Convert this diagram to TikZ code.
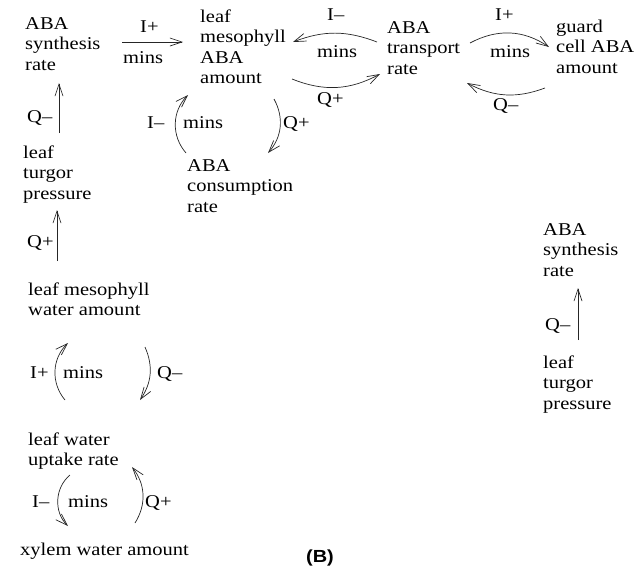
\documentclass[tikz,border=0pt]{standalone}
\usepackage{fontspec}
\setmainfont{Liberation Serif}[FakeStretch=1.14]
\newfontfamily\capsans{Liberation Sans}[FakeStretch=1.14]
\usetikzlibrary{arrows.meta}
\begin{document}
\begin{tikzpicture}[x=1pt,y=-1pt,
  lbl/.style={anchor=base west, inner sep=0pt, align=left, font=\fontsize{18}{20.5}\selectfont},
  tag/.style={anchor=base west, inner sep=0pt, font=\fontsize{18}{20.5}\selectfont},
  arr/.style={-{Straight Barb[length=12pt,width=8pt]}, line width=0.7pt, black!85}]
\useasboundingbox (0,0) rectangle (637,571);
% quantity nodes (placed by the baseline of their last line)
\node[lbl] (synth) at (25,29+41) {ABA\\synthesis\\rate};
\node[lbl] (meso) at (200,22+61.5) {leaf\\mesophyll\\ABA\\amount};
\node[lbl] (transp) at (387,33+41) {ABA\\transport\\rate};
\node[lbl] (guard) at (556,32+41) {guard\\cell ABA\\amount};
\node[lbl] (cons) at (187,171+41) {ABA\\consumption\\rate};
\node[lbl] (turgor) at (23,158+41) {leaf\\turgor\\pressure};
\node[lbl] (mwater) at (28,295+20.5) {leaf mesophyll\\water amount};
\node[lbl] (uptake) at (28,445+20.5) {leaf water\\uptake rate};
\node[lbl] (xylem) at (20,555) {xylem water amount};
\node[lbl] (synthB) at (543,235+41) {ABA\\synthesis\\rate};
\node[lbl] (turgorB) at (543,368+41) {leaf\\turgor\\pressure};
\node[anchor=base, inner sep=0pt, font=\capsans\bfseries\fontsize{17.5}{20}\selectfont] (panel) at (320,562) {(B)};
% connectors
\draw[arr] ([shift={(97,13-41)}]synth.base west) -- ([shift={(-17,20-61.5)}]meso.base west);
\draw[arr] ([shift={(36,-25-41)}]turgor.base west) -- ([shift={(34,54-41)}]synth.base west);
\draw[arr] ([shift={(29,-34-20.5)}]mwater.base west) -- ([shift={(34,52-41)}]turgor.base west);
\draw[arr] ([shift={(-1,-18-41)}]cons.base west) to[bend left=43] ([shift={(-12,73-61.5)}]meso.base west);
\draw[arr] ([shift={(74,77-61.5)}]meso.base west) to[bend left=35] ([shift={(81,-18-41)}]cons.base west);
\draw[arr] ([shift={(-10,9-41)}]transp.base west) to[bend right=21] ([shift={(93,20-61.5)}]meso.base west);
\draw[arr] ([shift={(92,57-61.5)}]meso.base west) to[bend right=25] ([shift={(-7,41-41)}]transp.base west);
\draw[arr] ([shift={(83,10-41)}]transp.base west) to[bend left=31] ([shift={(-7,15-41)}]guard.base west);
\draw[arr] ([shift={(-11,56-41)}]guard.base west) to[bend left=24] ([shift={(80,50-41)}]transp.base west);
\draw[arr] ([shift={(37,-45-20.5)}]uptake.base west) to[bend left=43] ([shift={(40,48-20.5)}]mwater.base west);
\draw[arr] ([shift={(117,52-20.5)}]mwater.base west) to[bend left=29] ([shift={(112,-45-20.5)}]uptake.base west);
\draw[arr] ([shift={(42,30-20.5)}]uptake.base west) to[bend right=48] ([shift={(48,-29)}]xylem.base west);
\draw[arr] ([shift={(115,-32)}]xylem.base west) to[bend right=35] ([shift={(104,22-20.5)}]uptake.base west);
\draw[arr] ([shift={(35,-28-41)}]turgorB.base west) -- ([shift={(35,53-41)}]synthB.base west);
% connector labels
\node[tag] (la1) at (140,32) {I+};
\node[tag] (la2) at (123,63) {mins};
\node[tag] (lb) at (27,122) {Q–};
\node[tag] (lc) at (27,247) {Q+};
\node[tag] (ld1) at (147,128) {I–};
\node[tag] (ld2) at (183,128) {mins};
\node[tag] (le) at (283,128) {Q+};
\node[tag] (lf1) at (327,20) {I–};
\node[tag] (lf2) at (317,57) {mins};
\node[tag] (lg) at (317,104) {Q+};
\node[tag] (lh1) at (495,20) {I+};
\node[tag] (lh2) at (490,57) {mins};
\node[tag] (li) at (493,110) {Q–};
\node[tag] (lj1) at (30,378) {I+};
\node[tag] (lj2) at (63,378) {mins};
\node[tag] (lk) at (157,378) {Q–};
\node[tag] (ll1) at (32,507) {I–};
\node[tag] (ll2) at (68,507) {mins};
\node[tag] (lm) at (145,507) {Q+};
\node[tag] (ln) at (545,330) {Q–};
\end{tikzpicture}
\end{document}
